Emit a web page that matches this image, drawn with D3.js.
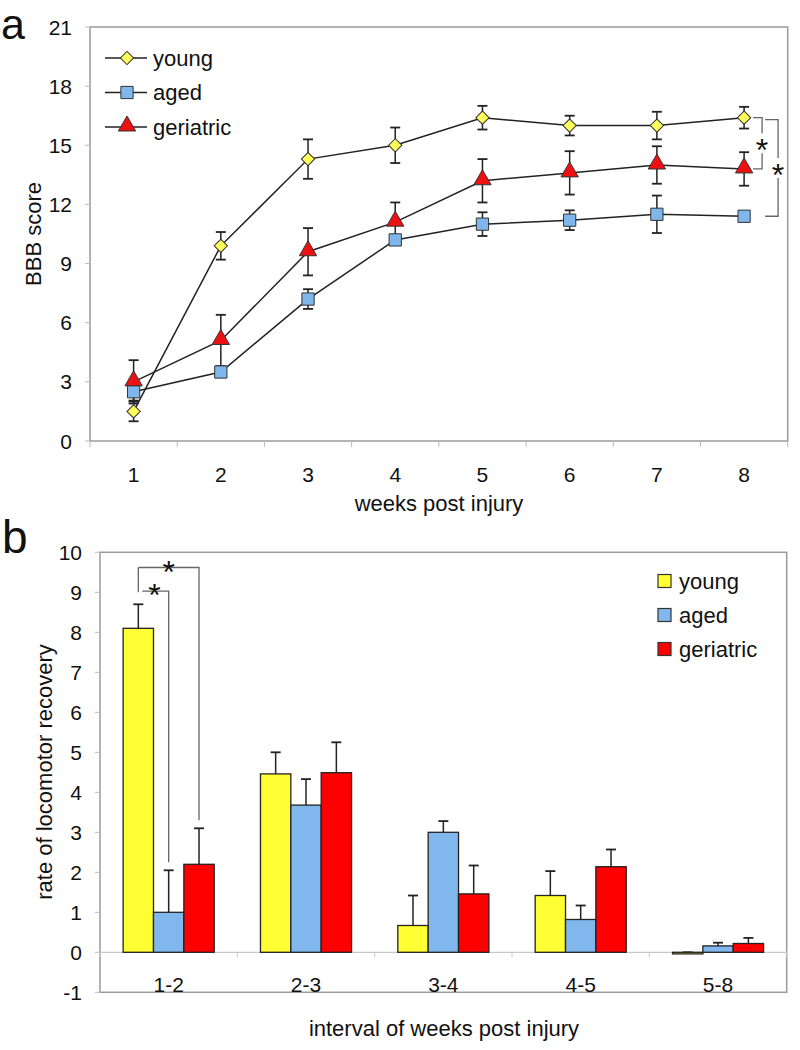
<!DOCTYPE html>
<html>
<head>
<meta charset="utf-8">
<script src="https://cdn.jsdelivr.net/npm/d3@7"></script>
<style>
  body { margin: 0; background: #fff; }
  svg text { font-family: "Liberation Sans", Arial, sans-serif; fill: #111; }
</style>
</head>
<body>
<svg id="chart" width="800" height="1050"></svg>
<script>
// ---- panel a data: BBB score by week ----
var weeks = [1, 2, 3, 4, 5, 6, 7, 8];
var bbbTicks = [0, 3, 6, 9, 12, 15, 18, 21];
var youngMean = [1.5, 9.9, 14.3, 15.0, 16.4, 16.0, 16.0, 16.4];
var youngErr  = [0.5, 0.7, 1.0, 0.9, 0.6, 0.5, 0.7, 0.55];
var agedMean  = [2.5, 3.5, 7.2, 10.2, 11.0, 11.2, 11.5, 11.4];
var agedErr   = [0.45, 0.25, 0.5, 0.2, 0.6, 0.5, 0.95, 0.1];
var geriMean  = [3.0, 5.1, 9.6, 11.1, 13.2, 13.6, 14.0, 13.8];
var geriErr   = [1.1, 1.3, 1.2, 1.0, 1.1, 1.1, 0.95, 0.85];

// ---- panel b data: rate of recovery by interval ----
var intervals = ["1-2", "2-3", "3-4", "4-5", "5-8"];
var rateTicks = [-1, 0, 1, 2, 3, 4, 5, 6, 7, 8, 9, 10];
var youngRate    = [8.1, 4.46, 0.67, 1.42, -0.04];
var youngRateErr = [0.6, 0.54, 0.75, 0.61, 0.04];
var agedRate     = [1.0, 3.68, 3.0, 0.82, 0.16];
var agedRateErr  = [1.05, 0.65, 0.28, 0.35, 0.08];
var geriRate     = [2.2, 4.49, 1.46, 2.14, 0.22];
var geriRateErr  = [0.9, 0.76, 0.71, 0.43, 0.14];

var groups = ["young", "aged", "geriatric"];
var colors = { young: "#ffff5a", aged: "#7fb6ec", geriatric: "#ee1111" };
var barColors = { young: "#ffff33", aged: "#80b8ee", geriatric: "#ff0000" };

var svg = d3.select("#chart");
var fs = 21;

// ================= panel a =================
var a = { left: 90, right: 787.7, top: 27, bottom: 441 };
var xA = d3.scaleBand().domain(weeks).range([a.left, a.right]);
var yA = d3.scaleLinear().domain([0, 21]).range([a.bottom, a.top]);
var xc = function(w) { return xA(w) + xA.bandwidth() / 2; };

var gA = svg.append("g");

// plot frame
gA.append("rect")
  .attr("x", a.left).attr("y", a.top)
  .attr("width", a.right - a.left).attr("height", a.bottom - a.top)
  .attr("fill", "none").attr("stroke", "#9a9a9a").attr("stroke-width", 1.5);

// y ticks and labels
gA.selectAll(".ytick").data(bbbTicks).enter().append("line")
  .attr("x1", a.left - 5).attr("x2", a.left)
  .attr("y1", function(d) { return yA(d); }).attr("y2", function(d) { return yA(d); })
  .attr("stroke", "#bbb");
gA.selectAll(".ylab").data(bbbTicks).enter().append("text")
  .attr("x", 72).attr("y", function(d) { return yA(d); })
  .attr("dy", "0.36em").attr("text-anchor", "end")
  .style("font-size", fs + "px").text(function(d) { return d; });

// x ticks at band boundaries, labels at centers
gA.selectAll(".xtick").data(d3.range(weeks.length + 1)).enter().append("line")
  .attr("x1", function(i) { return a.left + i * xA.bandwidth(); })
  .attr("x2", function(i) { return a.left + i * xA.bandwidth(); })
  .attr("y1", a.bottom).attr("y2", a.bottom + 6)
  .attr("stroke", "#bbb");
gA.selectAll(".xlab").data(weeks).enter().append("text")
  .attr("x", function(d) { return xc(d); }).attr("y", 482)
  .attr("text-anchor", "middle").style("font-size", fs + "px")
  .text(function(d) { return d; });

gA.append("text").attr("x", 439).attr("y", 511).attr("text-anchor", "middle")
  .style("font-size", "22px").text("weeks post injury");
gA.append("text").attr("transform", "translate(41,234) rotate(-90)")
  .attr("text-anchor", "middle").style("font-size", "22px").text("BBB score");
gA.append("text").attr("x", 1).attr("y", 39).style("font-size", "43px").text("a");

var seriesA = [
  { name: "young", mean: youngMean, err: youngErr, shape: d3.symbolSquare, size: 88, rot: 45 },
  { name: "aged", mean: agedMean, err: agedErr, shape: d3.symbolSquare, size: 150, rot: 0 },
  { name: "geriatric", mean: geriMean, err: geriErr, shape: d3.symbolTriangle, size: 130, rot: 0 }
];

var line = d3.line()
  .x(function(d) { return xc(d.w); })
  .y(function(d) { return yA(d.v); });

seriesA.forEach(function(s) {
  var pts = weeks.map(function(w, i) { return { w: w, v: s.mean[i], e: s.err[i] }; });
  gA.append("path").datum(pts).attr("d", line)
    .attr("fill", "none").attr("stroke", "#222").attr("stroke-width", 1.5);
  var eb = gA.append("g").selectAll("g").data(pts).enter().append("g");
  eb.append("line")
    .attr("x1", function(d) { return xc(d.w); }).attr("x2", function(d) { return xc(d.w); })
    .attr("y1", function(d) { return yA(d.v - d.e); }).attr("y2", function(d) { return yA(d.v + d.e); })
    .attr("stroke", "#222").attr("stroke-width", 1.5);
  [-1, 1].forEach(function(sign) {
    eb.append("line")
      .attr("x1", function(d) { return xc(d.w) - 5; }).attr("x2", function(d) { return xc(d.w) + 5; })
      .attr("y1", function(d) { return yA(d.v + sign * d.e); }).attr("y2", function(d) { return yA(d.v + sign * d.e); })
      .attr("stroke", "#222").attr("stroke-width", 1.8);
  });
  s.pts = pts;
});
function markerTransform(s, x, y) {
  var dy = s.shape === d3.symbolTriangle ? -1 : 0;
  return "translate(" + x + "," + (y + dy) + ") rotate(" + s.rot + ")";
}
seriesA.forEach(function(s) {
  gA.append("g").selectAll("path").data(s.pts).enter().append("path")
    .attr("d", d3.symbol().type(s.shape).size(s.size))
    .attr("transform", function(d) { return markerTransform(s, xc(d.w), yA(d.v)); })
    .attr("fill", colors[s.name]).attr("stroke", "#333").attr("stroke-width", 1);
});

// legend a
seriesA.forEach(function(s, i) {
  var ly = 58 + i * 34.5;
  gA.append("line").attr("x1", 105).attr("x2", 147).attr("y1", ly).attr("y2", ly)
    .attr("stroke", "#222").attr("stroke-width", 1.5);
  gA.append("path").attr("d", d3.symbol().type(s.shape).size(s.size))
    .attr("transform", markerTransform(s, 127, ly))
    .attr("fill", colors[s.name]).attr("stroke", "#333").attr("stroke-width", 1);
  gA.append("text").attr("x", 153).attr("y", ly).attr("dy", "0.36em")
    .style("font-size", "22px").text(s.name);
});

// significance brackets at week 8
var last = weeks.length - 1;
var x8 = xc(weeks[last]);
function bracketA(x0, x1, v0, v1) {
  var y0 = yA(v0), y1 = yA(v1), ym = (y0 + y1) / 2;
  var p = gA.append("g").attr("stroke", "#666").attr("stroke-width", 1.3).attr("fill", "none");
  p.append("polyline").attr("points", [[x0, y0], [x1, y0], [x1, ym - 10]].join(" "));
  p.append("polyline").attr("points", [[x1, ym + 10], [x1, y1], [x0, y1]].join(" "));
  gA.append("text").attr("x", x1).attr("y", ym + 18).attr("text-anchor", "middle")
    .style("font-size", "32px").text("*");
}
bracketA(x8 + 9, x8 + 18, youngMean[last], geriMean[last]);
bracketA(x8 + 21, x8 + 34, youngMean[last] - 0.1, agedMean[last]);

// ================= panel b =================
var b = { left: 100, right: 786.7, top: 552.3, bottom: 992.3 };
var xB = d3.scaleBand().domain(intervals).range([b.left, b.right]);
var yB = d3.scaleLinear().domain([-1, 10]).range([b.bottom, b.top]);
var groupW = xB.bandwidth() * 0.663;
var x1 = d3.scaleBand().domain(groups).range([0, groupW]);
var gB = svg.append("g");

gB.append("rect")
  .attr("x", b.left).attr("y", b.top)
  .attr("width", b.right - b.left).attr("height", b.bottom - b.top)
  .attr("fill", "none").attr("stroke", "#9a9a9a").attr("stroke-width", 1.5);

gB.selectAll(".ytick").data(rateTicks).enter().append("line")
  .attr("x1", b.left - 5).attr("x2", b.left)
  .attr("y1", function(d) { return yB(d); }).attr("y2", function(d) { return yB(d); })
  .attr("stroke", "#bbb");
gB.selectAll(".ylab").data(rateTicks).enter().append("text")
  .attr("x", 82).attr("y", function(d) { return yB(d); })
  .attr("dy", "0.36em").attr("text-anchor", "end")
  .style("font-size", fs + "px").text(function(d) { return d; });

// zero axis
gB.append("line").attr("x1", b.left).attr("x2", b.right)
  .attr("y1", yB(0)).attr("y2", yB(0)).attr("stroke", "#c8c8c8").attr("stroke-width", 1.2);
gB.selectAll(".xtick").data(d3.range(intervals.length + 1)).enter().append("line")
  .attr("x1", function(i) { return b.left + i * xB.bandwidth(); })
  .attr("x2", function(i) { return b.left + i * xB.bandwidth(); })
  .attr("y1", yB(0)).attr("y2", yB(0) + 5).attr("stroke", "#c8c8c8");
gB.selectAll(".xlab").data(intervals).enter().append("text")
  .attr("x", function(d) { return xB(d) + xB.bandwidth() / 2; }).attr("y", 992)
  .attr("text-anchor", "middle").style("font-size", fs + "px")
  .text(function(d) { return d; });

gB.append("text").attr("x", 444).attr("y", 1036).attr("text-anchor", "middle")
  .style("font-size", "22px").text("interval of weeks post injury");
gB.append("text").attr("transform", "translate(52,772) rotate(-90)")
  .attr("text-anchor", "middle").style("font-size", "22px").text("rate of locomotor recovery");
gB.append("text").attr("x", 2).attr("y", 553).style("font-size", "46px").text("b");

var seriesB = [
  { name: "young", v: youngRate, e: youngRateErr },
  { name: "aged", v: agedRate, e: agedRateErr },
  { name: "geriatric", v: geriRate, e: geriRateErr }
];
var bx = function(cat, g) {
  return xB(cat) + (xB.bandwidth() - groupW) / 2 + x1(g);
};

seriesB.forEach(function(s) {
  var rows = intervals.map(function(c, i) { return { c: c, v: s.v[i], e: s.e[i] }; });
  var g = gB.append("g");
  g.selectAll("line.err").data(rows).enter().append("line")
    .attr("x1", function(d) { return bx(d.c, s.name) + x1.bandwidth() / 2; })
    .attr("x2", function(d) { return bx(d.c, s.name) + x1.bandwidth() / 2; })
    .attr("y1", function(d) { return yB(d.v); })
    .attr("y2", function(d) { return yB(d.v + d.e); })
    .attr("stroke", "#222").attr("stroke-width", 1.5);
  g.selectAll("line.cap").data(rows).enter().append("line")
    .attr("x1", function(d) { return bx(d.c, s.name) + x1.bandwidth() / 2 - 5; })
    .attr("x2", function(d) { return bx(d.c, s.name) + x1.bandwidth() / 2 + 5; })
    .attr("y1", function(d) { return yB(d.v + d.e); })
    .attr("y2", function(d) { return yB(d.v + d.e); })
    .attr("stroke", "#222").attr("stroke-width", 1.8);
  g.selectAll("rect").data(rows).enter().append("rect")
    .attr("x", function(d) { return bx(d.c, s.name); })
    .attr("width", x1.bandwidth())
    .attr("y", function(d) { return yB(Math.max(0, d.v)); })
    .attr("height", function(d) { return Math.abs(yB(d.v) - yB(0)); })
    .attr("fill", barColors[s.name]).attr("stroke", "#222").attr("stroke-width", 1.3);
});

// legend b
groups.forEach(function(name, i) {
  var ly = 581 + i * 34;
  gB.append("rect").attr("x", 658).attr("y", ly - 6.5).attr("width", 13).attr("height", 13)
    .attr("fill", barColors[name]).attr("stroke", "#333").attr("stroke-width", 1.2);
  gB.append("text").attr("x", 679).attr("y", ly).attr("dy", "0.36em")
    .style("font-size", "22px").text(name);
});

// significance brackets for 1-2 interval
var c0 = intervals[0];
var cx = function(g) { return bx(c0, g) + x1.bandwidth() / 2; };
var topLeft = youngRate[0] + youngRateErr[0] + 0.3;
var br = gB.append("g").attr("stroke", "#666").attr("stroke-width", 1.3).attr("fill", "none");
br.append("line").attr("x1", cx("young")).attr("x2", cx("young"))
  .attr("y1", yB(topLeft)).attr("y2", yB(9.62));
br.append("polyline").attr("points", [
  [cx("young") + 4, yB(9.03)], [cx("aged"), yB(9.03)], [cx("aged"), yB(agedRate[0] + agedRateErr[0] + 0.2)]
].join(" "));
br.append("polyline").attr("points", [
  [cx("young"), yB(9.62)], [cx("geriatric"), yB(9.62)], [cx("geriatric"), yB(geriRate[0] + geriRateErr[0] + 0.2)]
].join(" "));
gB.append("text").attr("x", (cx("young") + cx("aged")) / 2 + 1).attr("y", yB(9.03) + 15)
  .attr("text-anchor", "middle").style("font-size", "32px").text("*");
gB.append("text").attr("x", (cx("young") + cx("geriatric")) / 2).attr("y", yB(9.62) + 15)
  .attr("text-anchor", "middle").style("font-size", "32px").text("*");
</script>
</body>
</html>
